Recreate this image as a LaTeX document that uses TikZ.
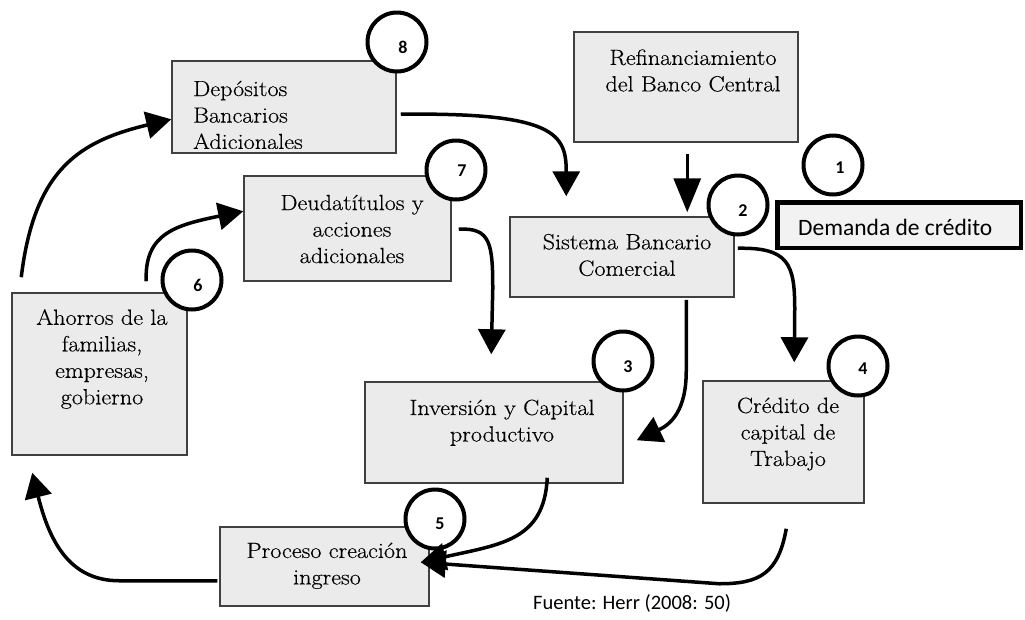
\documentclass[tikz,border=0pt]{standalone}
\usepackage{fontspec}
\setmainfont{Latin Modern Roman}[FakeStretch=1.1,FakeBold=0.35]
\newfontfamily\carl{Carlito}
\usetikzlibrary{arrows.meta,calc}
\definecolor{boxfill}{HTML}{EBEBEB}
\definecolor{boxline}{HTML}{404040}
\definecolor{demfill}{HTML}{F2F2F2}
\begin{document}
\begin{tikzpicture}[x=1pt,y=-1pt,
  box/.style={draw=boxline, fill=boxfill, line width=1.5pt, inner sep=0pt},
  txt/.style={font=\fontsize{22}{26.5}\selectfont, align=center, inner sep=0pt},
  numc/.style={circle, draw, line width=4pt, fill=white, minimum size=59pt, inner sep=0pt},
  numtxt/.style={font=\carl\bfseries\fontsize{18}{18}\selectfont, inner sep=0pt},
  arr/.style={line width=3.5pt, -{Triangle[length=25pt,width=27pt]}},
  arrlong/.style={line width=3.5pt, -{Triangle[length=34pt,width=27pt]}},
]
\useasboundingbox (0,0) rectangle (1025,619);

% boxes
\node[box, minimum width=224pt, minimum height=92pt]  (dep) at (284,107) {};
\node[box, minimum width=224pt, minimum height=110pt] (ref) at (686,87) {};
\node[box, minimum width=224pt, minimum height=80pt]  (sis) at (622,257) {};
\node[box, minimum width=207pt, minimum height=105pt] (deu) at (347.5,228.5) {};
\node[box, minimum width=175pt, minimum height=162pt] (aho) at (99.5,374) {};
\node[box, minimum width=258pt, minimum height=101pt] (inv) at (494,432.5) {};
\node[box, minimum width=161pt, minimum height=122pt] (cre) at (783.5,442) {};
\node[box, minimum width=209pt, minimum height=79pt]  (pro) at (324.5,566.5) {};
\node[draw, fill=demfill, line width=4.5pt, minimum width=243.5pt, minimum height=45.5pt, inner sep=0pt] (dem) at (899,225) {};

% texts
\begin{scope}
  \clip (dep.north west) rectangle ($(dep.south east)+(0,-5)$);
  \node[txt, align=left, anchor=west] (dept) at (193,115) {Depósitos\\Bancarios\\Adicionales};
\end{scope}
\begin{scope}
  \clip (ref.north west) rectangle ($(ref.south east)+(-17,0)$);
  \node[txt] (reft) at (693,70.6) {Refinanciamiento\\del Banco Central};
\end{scope}
\node[txt] (sist) at (627,255) {Sistema Bancario\\Comercial};
\node[txt] (deut) at (352,229) {Deudatítulos y\\acciones\\adicionales};
\node[txt] (ahot) at (102,359) {Ahorros de la\\familias,\\empresas,\\gobierno};
\node[txt] (invt) at (502,422.7) {Inversión y Capital\\productivo};
\node[txt] (cret) at (788,434) {Crédito de\\capital de\\Trabajo};
\node[txt] (prot) at (327,565.8) {Proceso creación\\ingreso};
\node[font=\carl\fontsize{23.5}{23.5}\selectfont, anchor=base west, inner sep=0pt] (demt) at (798,235) {Demanda de crédito};
\node[font=\carl\fontsize{20.5}{20.5}\selectfont, anchor=base west, inner sep=0pt] (fuente) at (533,609) {Fuente: Herr (2008: 50)};

% numbered circles
\node[numc, label={[numtxt, xshift=6pt, yshift=-5pt]center:8}] (c8) at (397,42) {};
\node[numc, label={[numtxt, xshift=7pt, yshift=-3pt]center:1}] (c1) at (833,165) {};
\node[numc, label={[numtxt, xshift=5pt, yshift=-6pt]center:2}] (c2) at (738,205) {};
\node[numc, label={[numtxt, xshift=6pt, yshift=-1pt]center:7}] (c7) at (456,170) {};
\node[numc, label={[numtxt, xshift=6pt, yshift=-5pt]center:6}] (c6) at (192,280) {};
\node[numc, label={[numtxt, xshift=5pt, yshift=-6pt]center:3}] (c3) at (623,361) {};
\node[numc, label={[numtxt, xshift=5pt, yshift=-3pt]center:4}] (c4) at (858,366) {};
\node[numc, label={[numtxt, xshift=5pt, yshift=-5pt]center:5}] (c5) at (435,519) {};

% connectors
\draw[arrlong] ($(ref.south west)+(114,11)$) -- ($(sis.north west)+(178,-4)$);
\draw[arr] ($(dep.north east)+(4,54)$) .. controls +(155,-2) and +(0,-62) .. ($(sis.north west)+(57,-20)$);
\draw[arr] ($(sis.north east)+(3,32)$) .. controls +(51,-1) and +(0,-45) .. ++(57,61) -- ($(cre.north west)+(92,-18)$);
\draw[arr] ($(sis.south west)+(177,2)$) -- ++(0,71) .. controls +(0,40) and +(34,-16) .. ($(inv.north east)+(13,59)$);
\draw[arr] ($(deu.north east)+(7,54)$) .. controls +(32,-2) and +(0,-45) .. ++(34,60) -- ($(inv.north west)+(127,-27)$);
\draw[arr] ($(aho.north west)+(135,-11)$) .. controls +(-2,-47) and +(-69,14) .. ($(deu.north west)+(0,36)$);
\draw[arr] ($(aho.north west)+(10,-15)$) .. controls +(13,-108) and +(-92,22) .. ($(dep.north west)+(0,59)$);
\draw[arr] ($(pro.south west)+(-2,-26)$) -- ++(-98,0) .. controls +(-50,0) and +(17,68) .. ($(aho.south west)+(21,17)$);
\draw[arr] ($(inv.south west)+(183,-6)$) .. controls +(-3,63) and +(80,-18) .. ($(pro.north east)+(-9,36)$);
\draw[arr] ($(cre.south west)+(84,25)$) .. controls +(-8,45) and +(40,0) .. ++(-67,55) -- ($(pro.north east)+(-9,36)$);
\end{tikzpicture}
\end{document}
